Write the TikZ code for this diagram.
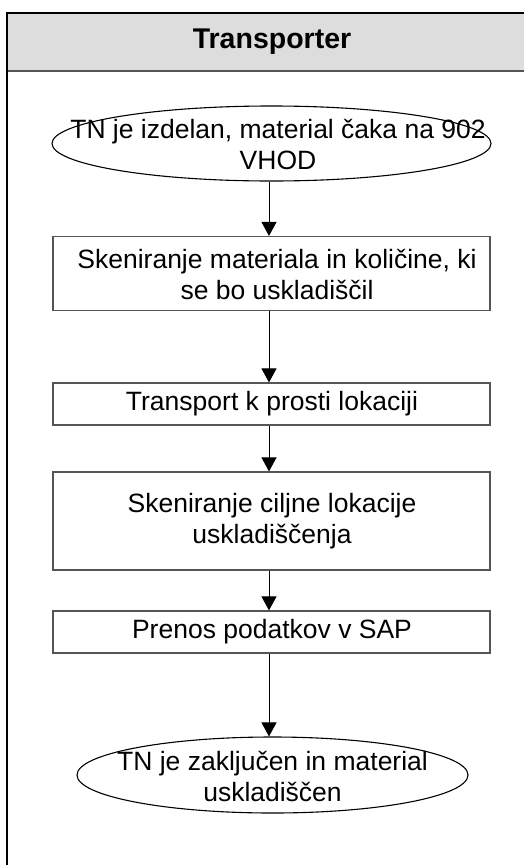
\documentclass[tikz,border=0pt]{standalone}
\usepackage{fontspec}
\setmainfont{Liberation Sans}
\usetikzlibrary{shapes.geometric,arrows.meta}
\definecolor{hdr}{HTML}{DDDDDD}
\definecolor{boxline}{HTML}{555555}
\tikzset{
  stepbox/.style={draw=boxline, line width=1.2pt, fill=white, minimum width=437pt, inner sep=0pt},
  oval/.style={ellipse, draw=black, line width=1.1pt, inner sep=0pt},
  txt/.style={align=center, inner sep=0pt, font=\fontsize{26.5}{31}\selectfont},
  flow/.style={draw=black, line width=1pt, -{Triangle[width=15pt,length=14pt]}},
}
\begin{document}
\begin{tikzpicture}[x=1pt,y=-1pt]
\useasboundingbox (0,0) rectangle (523,865);
% header
\fill[hdr] (7,13) rectangle (530,71);
\draw[line width=1.1pt, color=boxline] (7,71) -- (530,71);
\draw[line width=1.5pt] (530,13) -- (7,13) -- (7,870);
\node[font=\fontsize{28.5}{31}\selectfont\bfseries, inner sep=0pt] (title) at (272,42) {Transporter};
% start ellipse
\node[oval, minimum width=439pt, minimum height=75pt] (e1) at (271.5,143.5) {};
\node[txt] (e1t) at (278,144) {TN je izdelan, material čaka na 902\\VHOD};
% boxes
\node[stepbox, minimum height=74pt] (b1) at (271.5,273.5) {};
\node[txt] (b1t) at (277,274) {Skeniranje materiala in količine, ki\\se bo uskladiščil};
\node[stepbox, minimum height=42pt] (b2) at (271.5,404) {};
\node[txt] (b2t) at (272,404) {Transport k prosti lokaciji};
\node[stepbox, minimum height=98pt] (b3) at (271.5,521) {};
\node[txt] (b3t) at (272,521) {Skeniranje ciljne lokacije\\uskladiščenja};
\node[stepbox, minimum height=42pt] (b4) at (271.5,632) {};
\node[txt] (b4t) at (272,632) {Prenos podatkov v SAP};
% end ellipse
\node[oval, minimum width=391pt, minimum height=76pt] (e2) at (272.5,775) {};
\node[txt] (e2t) at (272.5,776) {TN je zaključen in material\\uskladiščen};
% connectors
\draw[flow] (e1.south -| 269,0) -- (b1.north -| 269,0);
\draw[flow] (b1.south -| 269,0) -- (b2.north -| 269,0);
\draw[flow] (b2.south -| 269,0) -- (b3.north -| 269,0);
\draw[flow] (b3.south -| 269,0) -- (b4.north -| 269,0);
\draw[flow] (b4.south -| 269,0) -- (e2.north -| 269,0);
\end{tikzpicture}
\end{document}
